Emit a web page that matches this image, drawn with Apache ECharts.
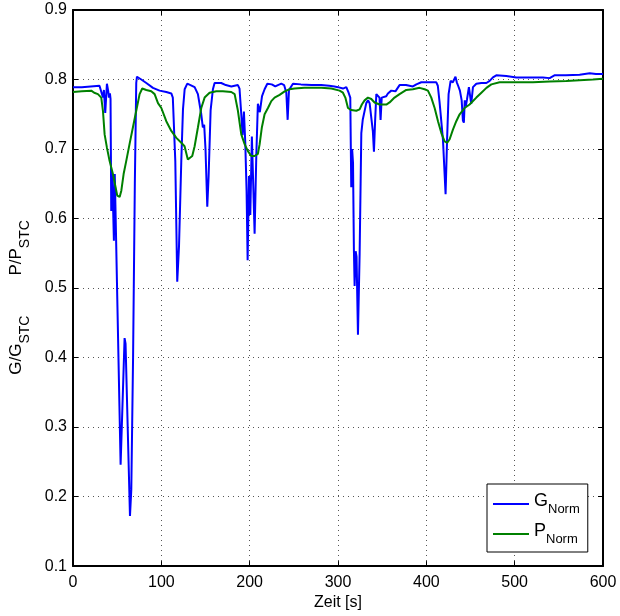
<!DOCTYPE html>
<html>
<head>
<meta charset="utf-8">
<script src="https://cdn.jsdelivr.net/npm/echarts@6/dist/echarts.min.js"></script>
<style>
html,body{margin:0;padding:0;background:#fff;}
#c{width:620px;height:616px;}
</style>
</head>
<body>
<div id="c"></div>
<script>
// Time axis ticks
const xTicks = [0, 100, 200, 300, 400, 500, 600];
const yTicks = [0.1, 0.2, 0.3, 0.4, 0.5, 0.6, 0.7, 0.8, 0.9];

// G_Norm (blue): time [s] and value
const gTime = [0,10,20,30,32,33.9,35,36.5,38.4,40,40.7,41.8,42.5,43.3,44.5,45.3,46.3,47.3,48,53.9,58.4,59.5,64.5,66,68,70,71.6,72.4,77.3,83,90.5,98,105.6,111.3,113,115.8,118,120,122.6,124.5,126.4,129.4,133,137.7,141.4,145.2,147,148.5,150,152,153.5,155.8,158.4,160.3,167.8,173,179.2,186.7,188.5,190.5,192,193.5,195,196.5,197.7,199.2,200.7,202.5,204,205.6,207.5,209.3,211.5,214,216.9,220,225,229,232,235.8,239,241.5,243,244.5,249,258,270,281,290,296,300,305.6,309.4,312,313.9,315,316,317,318,318.8,320,321,322.6,324.5,326.4,328,332,334,335.8,337.7,339.5,340.7,342,343.4,345.3,347,348.2,349.5,350.8,354.6,356.5,360.3,365,369.7,377,384.8,388.7,394.3,403.7,411.3,413,415,418.8,421.8,423.5,425.2,427.5,430,433,434.5,436,438,440,441.4,442.5,443.5,444.8,446,448.2,450,450.8,452.8,456.6,462.3,468,471.7,475.4,479.2,490.5,502,517,532,539.6,545,558,573.5,585,592,600];
const gValue = [0.789,0.789,0.790,0.791,0.791,0.774,0.785,0.752,0.794,0.782,0.774,0.780,0.772,0.611,0.664,0.664,0.568,0.664,0.620,0.246,0.428,0.420,0.172,0.210,0.400,0.650,0.795,0.804,0.800,0.795,0.788,0.784,0.782,0.780,0.774,0.683,0.509,0.560,0.683,0.757,0.786,0.794,0.792,0.789,0.779,0.750,0.731,0.735,0.700,0.617,0.660,0.756,0.786,0.795,0.795,0.792,0.790,0.792,0.787,0.750,0.720,0.754,0.710,0.640,0.540,0.661,0.605,0.718,0.650,0.578,0.690,0.765,0.753,0.776,0.786,0.794,0.793,0.790,0.792,0.794,0.792,0.781,0.742,0.785,0.794,0.793,0.792,0.792,0.791,0.790,0.789,0.787,0.789,0.781,0.774,0.645,0.700,0.680,0.555,0.503,0.553,0.545,0.433,0.550,0.723,0.742,0.766,0.770,0.766,0.764,0.725,0.696,0.740,0.779,0.781,0.774,0.742,0.774,0.776,0.776,0.780,0.784,0.783,0.792,0.792,0.790,0.793,0.796,0.796,0.796,0.791,0.767,0.714,0.635,0.714,0.779,0.798,0.796,0.804,0.796,0.791,0.784,0.770,0.741,0.738,0.770,0.762,0.771,0.789,0.788,0.765,0.789,0.794,0.795,0.795,0.798,0.803,0.806,0.805,0.803,0.803,0.803,0.802,0.806,0.806,0.807,0.809,0.808,0.808];

// P_Norm (green): time [s] and value
const pTime = [0,10,20.7,24,28.2,32,33.9,35.8,38.4,41.4,45.2,48.2,50.1,52.8,54.7,57.3,60.3,64,67.8,71.6,75.4,78.4,83,88.6,92.4,96.2,100,105.6,111.3,117,122.6,126.3,130,132,135,137.7,141.4,145.2,149,154.6,162.2,169.7,179.2,183,186.7,190.5,194.3,198,201.8,205.6,209.3,211.3,213.8,216.9,220.7,224.5,228.2,233.9,239.6,245.2,250.9,262,281,292.4,301.8,305.6,308.3,311.3,315,320.7,324.5,327,330.1,333.9,337.7,341.4,347.1,354.7,358.4,364,369.7,377.3,384.8,392.4,398,401.8,405.6,409.4,413.2,417,420.7,423.7,426.4,430.1,433.9,437.7,443.3,449,452.8,456.6,462.3,468,473.6,483,502,520.7,539.6,558.5,573.5,588.6,600];
const pValue = [0.782,0.783,0.784,0.781,0.779,0.774,0.755,0.721,0.702,0.683,0.664,0.645,0.633,0.631,0.640,0.664,0.683,0.707,0.731,0.755,0.779,0.787,0.785,0.783,0.779,0.766,0.759,0.740,0.726,0.716,0.709,0.704,0.685,0.683,0.690,0.704,0.731,0.759,0.774,0.781,0.783,0.783,0.782,0.779,0.755,0.721,0.707,0.697,0.690,0.690,0.693,0.707,0.731,0.750,0.759,0.769,0.774,0.778,0.783,0.786,0.787,0.788,0.788,0.787,0.784,0.781,0.774,0.759,0.756,0.755,0.757,0.764,0.770,0.774,0.772,0.767,0.764,0.764,0.767,0.774,0.779,0.785,0.786,0.788,0.786,0.784,0.774,0.759,0.740,0.723,0.711,0.709,0.714,0.728,0.740,0.750,0.759,0.764,0.769,0.774,0.781,0.788,0.793,0.796,0.796,0.796,0.797,0.798,0.799,0.800,0.801];

const FONT = '"Liberation Sans", Arial, Helvetica, sans-serif';

const chart = echarts.init(document.getElementById('c'), null, {renderer: 'canvas'});

const gData = gTime.map((t, i) => [t, gValue[i]]);
const pData = pTime.map((t, i) => [t, pValue[i]]);

const splitStyle = {show: true, lineStyle: {color: '#555', type: [1, 4], width: 1}};

chart.setOption({
  animation: false,
  backgroundColor: '#fff',
  grid: {left: 73, right: 17, top: 10, bottom: 48, containLabel: false},
  legend: {
    show: true,
    orient: 'vertical',
    left: 487,
    top: 484,
    padding: [8, 8, 6, 6],
    itemGap: 6,
    itemWidth: 36,
    itemHeight: 2,
    icon: 'rect',
    borderColor: '#000',
    borderWidth: 1,
    backgroundColor: '#fff',
    data: ['GNorm', 'PNorm'],
    formatter: function (name) {
      return '{b|' + name.charAt(0) + '}{s|' + name.slice(1) + '}';
    },
    textStyle: {
      fontFamily: FONT,
      color: '#000',
      rich: {
        b: {fontSize: 18, fontFamily: FONT, color: '#000', lineHeight: 24, verticalAlign: 'top'},
        s: {fontSize: 13, fontFamily: FONT, color: '#000', lineHeight: 24, verticalAlign: 'bottom'}
      }
    }
  },
  xAxis: [{
    type: 'value',
    min: xTicks[0],
    max: xTicks[xTicks.length - 1],
    interval: 100,
    position: 'bottom',
    name: 'Zeit [s]',
    nameLocation: 'middle',
    nameGap: 26,
    nameTextStyle: {fontFamily: FONT, fontSize: 16, color: '#000'},
    axisLine: {show: true, onZero: false, lineStyle: {color: '#000', width: 2}},
    axisTick: {show: true, inside: true, length: 5, lineStyle: {color: '#000', width: 1}},
    axisLabel: {fontFamily: FONT, fontSize: 16, color: '#000', margin: 8},
    splitLine: splitStyle
  }, {
    type: 'value',
    min: xTicks[0],
    max: xTicks[xTicks.length - 1],
    interval: 100,
    position: 'top',
    axisLine: {show: true, onZero: false, lineStyle: {color: '#000', width: 2}},
    axisTick: {show: true, inside: true, length: 5, lineStyle: {color: '#000', width: 1}},
    axisLabel: {show: false},
    splitLine: {show: false}
  }],
  yAxis: [{
    type: 'value',
    min: yTicks[0],
    max: yTicks[yTicks.length - 1],
    interval: 0.1,
    position: 'left',
    name: '{n|G/G}{s|STC}            {n|P/P}{s|STC}{n|    }',
    nameLocation: 'middle',
    nameRotate: 90,
    nameGap: 41,
    nameTextStyle: {
      fontFamily: FONT, color: '#000',
      rich: {
        n: {fontSize: 17, fontFamily: FONT, color: '#000', lineHeight: 24, verticalAlign: 'top'},
        s: {fontSize: 14, fontFamily: FONT, color: '#000', lineHeight: 24, verticalAlign: 'bottom'}
      }
    },
    axisLine: {show: true, onZero: false, lineStyle: {color: '#000', width: 2}},
    axisTick: {show: true, inside: true, length: 5, lineStyle: {color: '#000', width: 1}},
    axisLabel: {fontFamily: FONT, fontSize: 16, color: '#000', margin: 6,
      formatter: v => v.toFixed(1)},
    splitLine: splitStyle
  }, {
    type: 'value',
    min: yTicks[0],
    max: yTicks[yTicks.length - 1],
    interval: 0.1,
    position: 'right',
    axisLine: {show: true, onZero: false, lineStyle: {color: '#000', width: 2}},
    axisTick: {show: true, inside: true, length: 5, lineStyle: {color: '#000', width: 1}},
    axisLabel: {show: false},
    splitLine: {show: false}
  }],
  series: [{
    name: 'GNorm',
    type: 'line',
    xAxisIndex: 0,
    yAxisIndex: 0,
    data: gData,
    showSymbol: false,
    symbol: 'none',
    lineStyle: {color: '#0000ff', width: 2},
    itemStyle: {color: '#0000ff'},
    z: 2
  }, {
    name: 'PNorm',
    type: 'line',
    xAxisIndex: 0,
    yAxisIndex: 0,
    data: pData,
    showSymbol: false,
    symbol: 'none',
    lineStyle: {color: '#008000', width: 2},
    itemStyle: {color: '#008000'},
    z: 3
  }]
});
</script>
</body>
</html>
